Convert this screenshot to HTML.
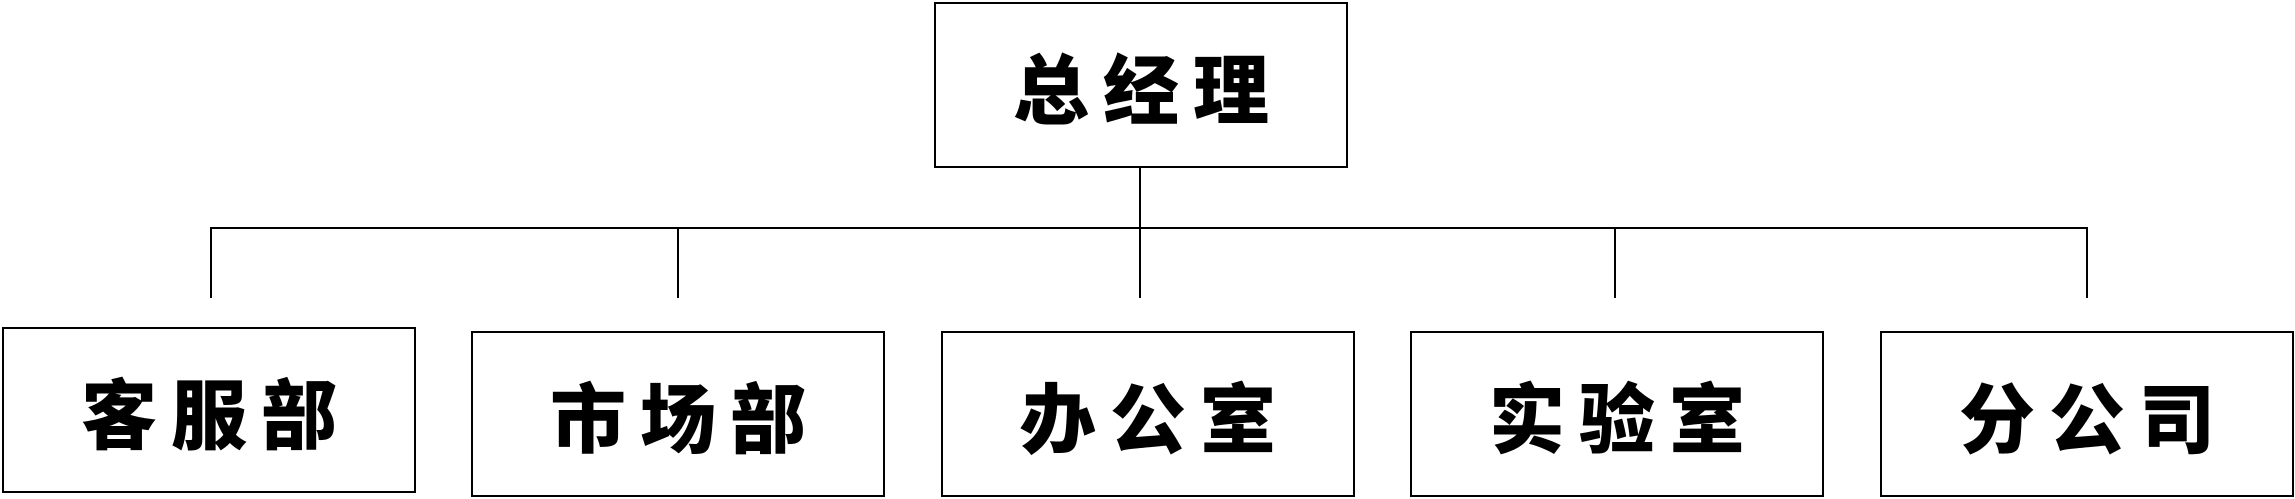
<!DOCTYPE html>
<html><head><meta charset="utf-8"><style>
html,body{margin:0;padding:0;background:#fff;}
body{width:2295px;height:499px;position:relative;overflow:hidden;font-family:"Liberation Sans","Noto Sans CJK SC",sans-serif;}
.b{position:absolute;border:2px solid #000;box-sizing:border-box;display:flex;align-items:center;justify-content:center;font-weight:900;font-size:76px;letter-spacing:14px;text-indent:14px;color:#000;}
.l{position:absolute;background:#000;}
</style></head><body>
<div class="b" style="left:934px;top:2px;width:414px;height:166px;">总经理</div>
<div class="l" style="left:1139px;top:167px;width:2px;height:62px;"></div>
<div class="l" style="left:210px;top:227px;width:1878px;height:2px;"></div>
<div class="l" style="left:210px;top:227px;width:2px;height:71px;"></div>
<div class="l" style="left:677px;top:227px;width:2px;height:71px;"></div>
<div class="l" style="left:1139px;top:227px;width:2px;height:71px;"></div>
<div class="l" style="left:1614px;top:227px;width:2px;height:71px;"></div>
<div class="l" style="left:2086px;top:227px;width:2px;height:71px;"></div>
<div class="b" style="left:2px;top:327px;width:414px;height:166px;">客服部</div>
<div class="b" style="left:471px;top:331px;width:414px;height:166px;">市场部</div>
<div class="b" style="left:941px;top:331px;width:414px;height:166px;">办公室</div>
<div class="b" style="left:1410px;top:331px;width:414px;height:166px;">实验室</div>
<div class="b" style="left:1880px;top:331px;width:414px;height:166px;">分公司</div>
</body></html>
